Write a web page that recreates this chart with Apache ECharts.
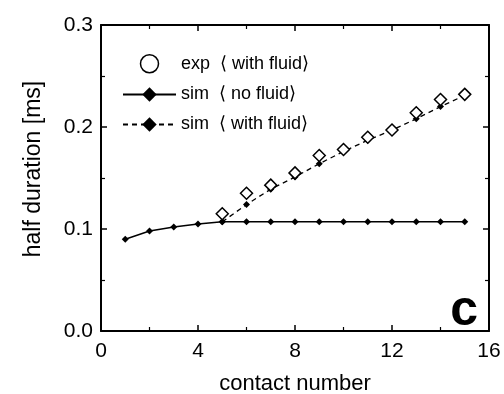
<!DOCTYPE html>
<html>
<head>
<meta charset="utf-8">
<script src="https://cdn.jsdelivr.net/npm/echarts@6/dist/echarts.min.js"></script>
<style>
  html, body { margin: 0; padding: 0; background: #fff; }
  #chart { width: 504px; height: 394px; }
</style>
</head>
<body>
<div id="chart"></div>
<script>
// contact number
var contacts = [1, 2, 3, 4, 5, 6, 7, 8, 9, 10, 11, 12, 13, 14, 15];
// sim, no fluid
var simNoFluid = [0.090, 0.098, 0.102, 0.105, 0.107, 0.107, 0.107, 0.107, 0.107, 0.107, 0.107, 0.107, 0.107, 0.107, 0.107];
// sim, with fluid (from contact 5)
var fluidContacts = [5, 6, 7, 8, 9, 10, 11, 12, 13, 14, 15];
var simWithFluid = [0.107, 0.124, 0.139, 0.151, 0.164, 0.176, 0.187, 0.197, 0.208, 0.220, 0.231];
// experiment, with fluid
var expWithFluid = [0.115, 0.135, 0.143, 0.155, 0.172, 0.178, 0.190, 0.197, 0.214, 0.227, 0.232];

function pairs(xs, ys) {
    return xs.map(function (x, i) { return [x, ys[i]]; });
}

var font = 'Liberation Sans, Arial, sans-serif';
var myChart = echarts.init(document.getElementById('chart'));

var baseAxis = {
    axisLine: { show: true, onZero: false, lineStyle: { color: '#000', width: 2 } },
    axisTick: { show: true, inside: true, length: 6, lineStyle: { color: '#000', width: 1.5 } },
    minorTick: { show: true, splitNumber: 2, length: 4, lineStyle: { color: '#000', width: 1.2 } },
    splitLine: { show: false }
};

myChart.setOption({
    animation: false,
    backgroundColor: '#fff',
    grid: { left: 101, right: 15, top: 25, bottom: 63, containLabel: false, outerBoundsMode: 'none' },
    legend: {
        orient: 'vertical',
        left: 117,
        top: 49,
        itemWidth: 53,
        itemHeight: 18,
        itemGap: 12,
        textStyle: { fontFamily: font, fontSize: 18, color: '#000' },
        data: [
            { name: 'exp  \u27e8 with fluid\u27e9', icon: 'circle',
              itemStyle: { color: '#fff', borderColor: '#000', borderWidth: 1.5, opacity: 1 } },
            { name: 'sim  \u27e8 no fluid\u27e9' },
            { name: 'sim  \u27e8 with fluid\u27e9' }
        ]
    },
    graphic: [{
        type: 'text',
        right: 26,
        bottom: 58,
        style: { text: 'c', fontFamily: font, fontSize: 50, fontWeight: 'bold', fill: '#000' }
    }],
    xAxis: [
        Object.assign({}, baseAxis, {
            type: 'value', min: 0, max: 16, interval: 4, position: 'bottom',
            name: 'contact number', nameLocation: 'middle', nameGap: 42,
            nameTextStyle: { fontFamily: font, fontSize: 22, color: '#000' },
            axisLabel: { fontFamily: font, fontSize: 21, color: '#000', margin: 10 }
        }),
        Object.assign({}, baseAxis, {
            type: 'value', min: 0, max: 16, interval: 4, position: 'top',
            axisLabel: { show: false }
        })
    ],
    yAxis: [
        Object.assign({}, baseAxis, {
            type: 'value', min: 0, max: 0.3, interval: 0.1, position: 'left',
            name: 'half duration [ms]', nameLocation: 'middle', nameGap: 56,
            nameTextStyle: { fontFamily: font, fontSize: 23, color: '#000', padding: [0, 0, 0, 18] },
            axisLabel: { fontFamily: font, fontSize: 21, color: '#000', margin: 8,
                padding: [0, 0, 8, 0],
                formatter: function (v) { return v.toFixed(1); } }
        }),
        Object.assign({}, baseAxis, {
            type: 'value', min: 0, max: 0.3, interval: 0.1, position: 'right',
            axisLabel: { show: false }
        })
    ],
    series: [
        {
            name: 'exp  \u27e8 with fluid\u27e9',
            type: 'scatter',
            data: pairs(fluidContacts, expWithFluid),
            symbol: 'diamond',
            symbolSize: 12,
            itemStyle: { color: '#fff', borderColor: '#000', borderWidth: 1.5, opacity: 1 },
            z: 5
        },
        {
            name: 'sim  \u27e8 no fluid\u27e9',
            type: 'line',
            data: pairs(contacts, simNoFluid),
            symbol: 'diamond',
            symbolSize: 7,
            showAllSymbol: true,
            lineStyle: { color: '#000', width: 1.5 },
            itemStyle: { color: '#000' },
            z: 3
        },
        {
            name: 'sim  \u27e8 with fluid\u27e9',
            type: 'line',
            data: pairs(fluidContacts, simWithFluid),
            symbol: 'diamond',
            symbolSize: 7,
            showAllSymbol: true,
            lineStyle: { color: '#000', width: 1.3, type: [5, 4] },
            itemStyle: { color: '#000' },
            z: 4
        }
    ]
});
</script>
</body>
</html>
